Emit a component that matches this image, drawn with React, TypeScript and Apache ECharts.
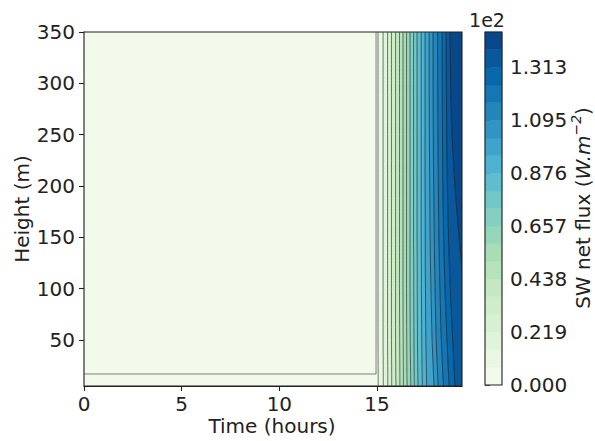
import React, { useEffect, useRef } from "react";
import * as echarts from "echarts";

// ---------- data ----------
const heights = [5, 17, 50, 100, 120, 150, 200, 250, 300, 350]; // m
const levels = [0, 7.3, 14.6, 21.9, 29.2, 36.5, 43.8, 51.1, 58.4, 65.7, 73.0, 80.2, 87.5, 94.8, 102.1, 109.4, 116.7, 124.0, 131.3, 138.6, 145.9]; // W m-2
// time (hours) where each contour level (levels[1..19]) is crossed, one value per height
const contourTimes: number[][] = [
  [15.06, 15.06, 15.05, 15.05, 15.05, 15.05, 15.05, 15.05, 15.05, 15.05],
  [15.32, 15.32, 15.31, 15.31, 15.31, 15.31, 15.31, 15.31, 15.31, 15.31],
  [15.55, 15.55, 15.54, 15.54, 15.54, 15.54, 15.54, 15.54, 15.54, 15.54],
  [15.75, 15.75, 15.74, 15.74, 15.74, 15.74, 15.74, 15.74, 15.74, 15.74],
  [15.97, 15.96, 15.95, 15.95, 15.95, 15.95, 15.95, 15.95, 15.95, 15.95],
  [16.17, 16.17, 16.16, 16.15, 16.15, 16.15, 16.15, 16.15, 16.15, 16.15],
  [16.35, 16.35, 16.34, 16.33, 16.33, 16.33, 16.33, 16.33, 16.33, 16.33],
  [16.54, 16.53, 16.52, 16.51, 16.51, 16.51, 16.51, 16.51, 16.51, 16.51],
  [16.73, 16.72, 16.7, 16.69, 16.69, 16.69, 16.69, 16.69, 16.69, 16.69],
  [16.91, 16.9, 16.89, 16.88, 16.88, 16.87, 16.87, 16.87, 16.87, 16.87],
  [17.1, 17.09, 17.07, 17.06, 17.06, 17.05, 17.05, 17.05, 17.05, 17.05],
  [17.32, 17.31, 17.29, 17.27, 17.27, 17.26, 17.26, 17.26, 17.26, 17.26],
  [17.54, 17.53, 17.5, 17.48, 17.47, 17.47, 17.46, 17.46, 17.46, 17.46],
  [17.92, 17.89, 17.82, 17.76, 17.74, 17.72, 17.7, 17.68, 17.67, 17.67],
  [18.13, 18.1, 18.03, 17.97, 17.95, 17.93, 17.9, 17.88, 17.87, 17.87],
  [18.4, 18.37, 18.29, 18.22, 18.2, 18.17, 18.14, 18.12, 18.11, 18.1],
  [18.69, 18.66, 18.58, 18.48, 18.45, 18.41, 18.37, 18.35, 18.34, 18.33],
  [18.99, 18.96, 18.87, 18.75, 18.71, 18.66, 18.6, 18.57, 18.55, 18.54],
  [19.35, 19.35, 19.35, 19.35, 19.34, 19.2, 18.99, 18.84, 18.77, 18.74],
];
// the zero-level contour (night region boundary)
const zeroContourTime = [0, 14.95, 14.95];
const zeroContourHeight = [16.7, 16.7, 350];

const xTicks = [0, 5, 10, 15];
const yTicks = [50, 100, 150, 200, 250, 300, 350];
const cbarTicks = [0, 21.9, 43.8, 65.7, 87.6, 109.5, 131.3];
const cbarTickLabels = ["0.000", "0.219", "0.438", "0.657", "0.876", "1.095", "1.313"];

const tMin = 0;
const tMax = 19.35;
const hMin = 5;
const hMax = 350;

// ---------- style ----------
const GNBU = ["#f7fcf0", "#e0f3db", "#ccebc5", "#a8ddb5", "#7bccc4", "#4eb3d3", "#2b8cbe", "#0868ac", "#084081"];
function hexToRgb(h: string) {
  return [parseInt(h.slice(1, 3), 16), parseInt(h.slice(3, 5), 16), parseInt(h.slice(5, 7), 16)];
}
function gnbu(f: number) {
  const p = Math.max(0, Math.min(1, f)) * (GNBU.length - 1);
  const i = Math.min(GNBU.length - 2, Math.floor(p));
  const t = p - i;
  const a = hexToRgb(GNBU[i]);
  const b = hexToRgb(GNBU[i + 1]);
  const c = a.map((v, k) => Math.round(v + (b[k] - v) * t));
  return `rgb(${c[0]},${c[1]},${c[2]})`;
}
const nBands = levels.length - 1;
const bandColors = Array.from({ length: nBands }, (_, i) => gnbu((i + 0.5) / nBands));

const FONT = "DejaVu Sans";
const TXT = "#222";
const FS = 20;

export default function App() {
  const ref = useRef<HTMLDivElement>(null);
  useEffect(() => {
    if (!ref.current) return;
    const chart = echarts.init(ref.current, undefined, { renderer: "svg" });

    const boundary = (i: number): number[] => {
      if (i <= 0) return heights.map(() => tMin);
      if (i >= nBands) return heights.map(() => tMax);
      return contourTimes[i - 1];
    };

    const bandSeries = {
      type: "custom",
      xAxisIndex: 0,
      yAxisIndex: 0,
      clip: true,
      z: 2,
      data: bandColors.map((_, i) => [i]),
      renderItem: (params: any, api: any) => {
        const i = params.dataIndex;
        const left = boundary(i);
        const right = boundary(i + 1);
        const pts: number[][] = [];
        heights.forEach((h, k) => pts.push(api.coord([left[k], h])));
        for (let k = heights.length - 1; k >= 0; k--) pts.push(api.coord([right[k], heights[k]]));
        return {
          type: "polygon",
          shape: { points: pts },
          style: { fill: bandColors[i], stroke: bandColors[i], lineWidth: 0.6 },
        };
      },
    };

    const lineSeries = {
      type: "custom",
      xAxisIndex: 0,
      yAxisIndex: 0,
      clip: true,
      z: 3,
      data: contourTimes.map((_, i) => [i]),
      renderItem: (params: any, api: any) => {
        const ts = contourTimes[params.dataIndex];
        const pts = heights.map((h, k) => api.coord([ts[k], h]));
        return {
          type: "polyline",
          shape: { points: pts, smooth: 0.3 },
          style: { fill: null, stroke: "rgba(20,20,20,0.7)", lineWidth: 0.8 },
        };
      },
    };

    const zeroSeries = {
      type: "custom",
      xAxisIndex: 0,
      yAxisIndex: 0,
      clip: true,
      z: 3,
      data: [[0]],
      renderItem: (params: any, api: any) => {
        const pts = zeroContourTime.map((t, k) => api.coord([t, zeroContourHeight[k]]));
        return {
          type: "polyline",
          shape: { points: pts },
          style: { fill: null, stroke: "rgba(60,60,60,0.7)", lineWidth: 0.9 },
        };
      },
    };

    const frameSeries = (xi: number, yi: number) => ({
      type: "custom",
      xAxisIndex: xi,
      yAxisIndex: yi,
      z: 10,
      silent: true,
      data: [[0]],
      renderItem: (params: any) => {
        const c = params.coordSys;
        return {
          type: "rect",
          shape: { x: c.x, y: c.y, width: c.width, height: c.height },
          style: { fill: null, stroke: TXT, lineWidth: 1.1 },
        };
      },
    });

    const cbarSeries = {
      type: "custom",
      xAxisIndex: 1,
      yAxisIndex: 1,
      z: 2,
      data: bandColors.map((_, i) => [i]),
      renderItem: (params: any, api: any) => {
        const i = params.dataIndex;
        const p0 = api.coord([0, levels[i]]);
        const p1 = api.coord([1, levels[i + 1]]);
        return {
          type: "rect",
          shape: { x: p0[0], y: p1[1], width: p1[0] - p0[0], height: p0[1] - p1[1] },
          style: { fill: bandColors[i], stroke: bandColors[i], lineWidth: 0.5 },
        };
      },
    };

    const axisText = { color: TXT, fontSize: FS, fontFamily: FONT };

    chart.setOption({
      animation: false,
      backgroundColor: "#ffffff",
      textStyle: { fontFamily: FONT },
      grid: [
        { left: 84, top: 32, width: 378, height: 354, containLabel: false },
        { left: 485, top: 32, width: 17, height: 353, containLabel: false },
      ],
      xAxis: [
        {
          gridIndex: 0,
          type: "value",
          min: tMin,
          max: tMax,
          axisLine: { show: true, lineStyle: { color: TXT, width: 1.1 } },
          axisTick: { show: true, length: 5, inside: false, customValues: xTicks, lineStyle: { color: TXT, width: 1.1 } },
          axisLabel: { ...axisText, margin: 8, customValues: xTicks },
          splitLine: { show: false },
        },
        {
          gridIndex: 1,
          type: "value",
          min: 0,
          max: 1,
          show: false,
        },
      ],
      yAxis: [
        {
          gridIndex: 0,
          type: "value",
          min: hMin,
          max: hMax,
          axisLine: { show: true, lineStyle: { color: TXT, width: 1.1 } },
          axisTick: { show: true, length: 5, inside: false, customValues: yTicks, lineStyle: { color: TXT, width: 1.1 } },
          axisLabel: { ...axisText, margin: 9, customValues: yTicks },
          splitLine: { show: false },
        },
        {
          gridIndex: 1,
          type: "value",
          position: "right",
          min: levels[0],
          max: levels[levels.length - 1],
          axisLine: { show: false },
          axisTick: { show: true, length: 5, inside: false, customValues: cbarTicks, lineStyle: { color: TXT, width: 1.1 } },
          axisLabel: {
            ...axisText,
            margin: 8,
            customValues: cbarTicks,
            formatter: (v: number) => {
              const idx = cbarTicks.findIndex((c) => Math.abs(c - v) < 1e-6);
              return idx >= 0 ? cbarTickLabels[idx] : "";
            },
          },
          splitLine: { show: false },
        },
      ],
      graphic: [
        {
          type: "text",
          x: 22,
          y: 209,
          rotation: Math.PI / 2,
          style: { text: "Height (m)", fill: TXT, fontSize: FS, fontFamily: FONT, align: "center", verticalAlign: "middle" },
        },
        {
          type: "text",
          x: 272,
          y: 426,
          style: { text: "Time (hours)", fill: TXT, fontSize: FS, fontFamily: FONT, align: "center", verticalAlign: "middle" },
        },
        {
          type: "text",
          x: 487,
          y: 20,
          style: { text: "1e2", fill: TXT, fontSize: FS - 1, fontFamily: FONT, align: "center", verticalAlign: "middle" },
        },
        {
          type: "text",
          x: 581,
          y: 208,
          rotation: Math.PI / 2,
          style: {
            text: "{n|SW net flux (}{i|W.m}{s|−2}{n|)}",
            fill: TXT,
            fontSize: FS,
            fontFamily: FONT,
            align: "center",
            verticalAlign: "middle",
            rich: {
              n: { fontSize: FS, fontFamily: FONT, fill: TXT, lineHeight: 24, verticalAlign: "bottom" },
              i: { fontSize: FS, fontFamily: FONT, fontStyle: "italic", fill: TXT, lineHeight: 24, verticalAlign: "bottom" },
              s: { fontSize: 14, fontFamily: FONT, fontStyle: "italic", fill: TXT, lineHeight: 24, verticalAlign: "top" },
            },
          },
        },
      ],
      series: [bandSeries, lineSeries, zeroSeries, frameSeries(0, 0), cbarSeries, frameSeries(1, 1)],
    });

    return () => chart.dispose();
  }, []);
  return <div ref={ref} style={{ position: "fixed", left: 0, top: 0, width: 595, height: 441 }} />;
}
